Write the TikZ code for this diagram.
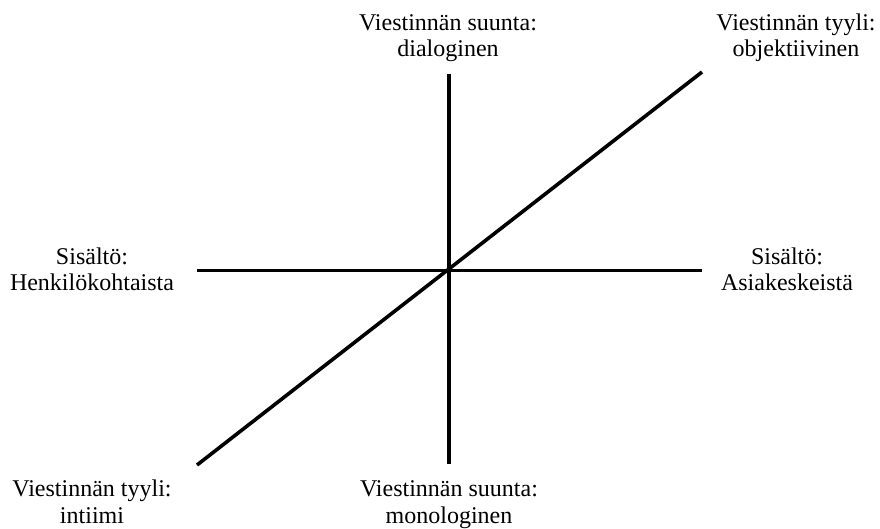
\documentclass[tikz,border=0pt]{standalone}
\usepackage{fontspec}
\setmainfont{Liberation Serif}
\begin{document}
\begin{tikzpicture}[x=1pt,y=-1pt,
  lbl/.style={align=center,anchor=base,inner sep=0pt,font=\fontsize{24}{26.5}\selectfont}]
\useasboundingbox[fill=white] (0,0) rectangle (880,528);
\coordinate (vt) at (449,74);
\coordinate (vb) at (449,464);
\coordinate (hl) at (197,270);
\coordinate (hr) at (702,270);
\coordinate (dl) at (197,465);
\coordinate (dr) at (702,72);
\draw[line width=3.5pt] (vt) -- (vb);
\draw[line width=3pt] (hl) -- (hr);
\draw[line width=3.6pt] (dl) -- (dr);
\node[lbl] (top) at (448,56.5) {Viestinnän suunta:\\dialoginen};
\node[lbl] (topr) at (796,56.5) {Viestinnän tyyli:\\objektiivinen};
\node[lbl] (left) at (92,290.5) {Sisältö:\\Henkilökohtaista};
\node[lbl] (right) at (787,290.5) {Sisältö:\\Asiakeskeistä};
\node[lbl] (botl) at (92,523) {Viestinnän tyyli:\\intiimi};
\node[lbl] (bot) at (449,523) {Viestinnän suunta:\\monologinen};
\end{tikzpicture}
\end{document}
